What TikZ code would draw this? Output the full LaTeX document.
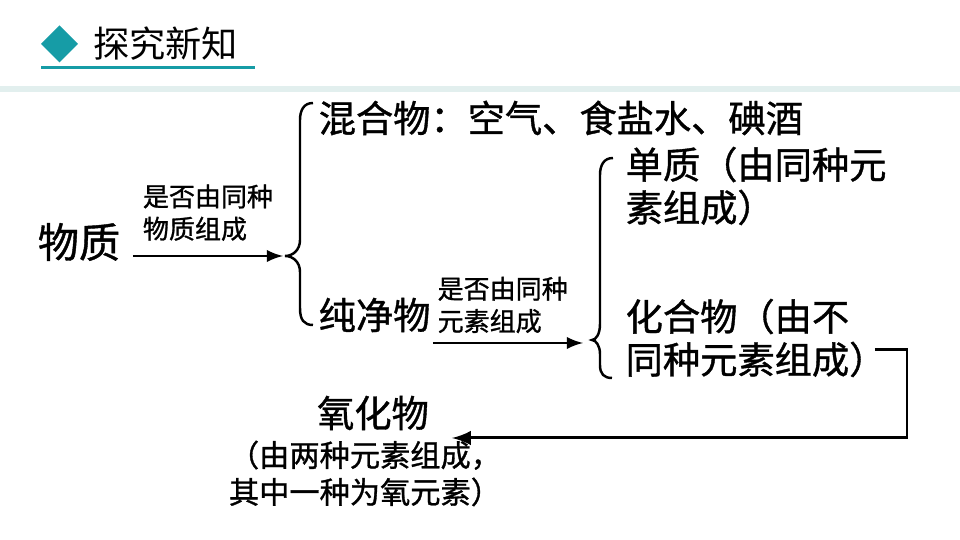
\documentclass[tikz,border=0pt]{standalone}
\usepackage{fontspec}
\newfontfamily\cjk[FakeBold=1]{Noto Sans CJK SC}
\newfontfamily\cjktitle{Noto Sans CJK SC}
\definecolor{teal1}{RGB}{22,156,166}
\definecolor{band}{RGB}{226,239,238}
\tikzset{
  >=latex,
  bigtxt/.style={font=\cjk\fontsize{10.6pt}{12.2pt}\selectfont, inner sep=0pt, align=left},
  hugetxt/.style={font=\cjk\fontsize{11.7pt}{13pt}\selectfont, inner sep=0pt},
  smalltxt/.style={font=\cjk\fontsize{7.4pt}{9.2pt}\selectfont, inner sep=0pt, align=left},
  midtxt/.style={font=\cjk\fontsize{8.6pt}{10.5pt}\selectfont, inner sep=0pt, align=center},
  brace/.style={line width=0.7pt},
  link/.style={->, line width=0.6pt}
}
\begin{document}
\begin{tikzpicture}
\useasboundingbox (0,0) rectangle (9.6,5.4);
                % Header
                \fill[teal1] (0.41,4.96) -- (0.595,5.145) -- (0.78,4.96) -- (0.595,4.775) -- cycle;
                \node[inner sep=0pt, font=\cjktitle\fontsize{10.3pt}{12pt}\selectfont] (title) at (1.655,4.96) {探究新知};
                \draw[teal1, line width=0.85pt] (0.41,4.72) -- (2.55,4.72);
                \fill[band] (0,4.48) rectangle (9.6,4.54);

                % Matter and first split
                \node[hugetxt] (wz) at (0.79,2.98) {物质};
                \coordinate (wzout) at (1.33,2.84);
                \coordinate (tip1) at (2.83,2.84);
                \draw[link] (wzout) -- (tip1) node[midway, above=4pt, smalltxt] (q1) {是否由同种\\物质组成};
                \draw[brace] (3.13,4.37) .. controls (3.04,4.37) and (3.0,4.3) .. (3.0,4.2)
                    -- (3.0,3.0) .. controls (3.0,2.9) and (2.93,2.84) .. (2.85,2.84)
                    .. controls (2.93,2.84) and (3.0,2.78) .. (3.0,2.68)
                    -- (3.0,2.32) .. controls (3.0,2.2) and (3.04,2.15) .. (3.13,2.15);
                \node[bigtxt, anchor=west] (hhw) at (3.18,4.22) {混合物：空气、食盐水、碘酒};
                \node[bigtxt, anchor=west] (cjw) at (3.18,2.25) {纯净物};

                % Pure substances
                \coordinate (cjout) at (4.33,1.97);
                \coordinate (tip2) at (5.83,1.97);
                \draw[link] (cjout) -- (tip2);
                \node[smalltxt, anchor=west] (q2) at (4.37,2.35) {是否由同种\\元素组成};
                \draw[brace] (6.13,3.82) .. controls (6.04,3.82) and (6.0,3.75) .. (6.0,3.65)
                    -- (6.0,2.16) .. controls (6.0,2.06) and (5.96,2.0) .. (5.92,2.0)
                    .. controls (5.96,2.0) and (6.0,1.94) .. (6.0,1.86)
                    -- (6.0,1.75) .. controls (6.0,1.66) and (6.04,1.62) .. (6.12,1.62);
                \node[bigtxt, anchor=west] (dz) at (6.25,3.54) {单质（由同种元\\素组成）};
                \node[bigtxt, anchor=west] (hhw2) at (6.25,2.02) {化合物（由不\\同种元素组成）};

                % Oxides
                \node[bigtxt] (yhw) at (3.73,1.27) {氧化物};
                \node[midtxt] (yhwdef) at (3.65,0.665) {（由两种元素组成，\\其中一种为氧元素）};
                \coordinate (hout) at (8.75,1.90);
                \coordinate (yin) at (4.52,1.02);
                \draw[->, line width=0.85pt] (hout) -- (9.07,1.90) |- (yin);
\end{tikzpicture}
\end{document}
